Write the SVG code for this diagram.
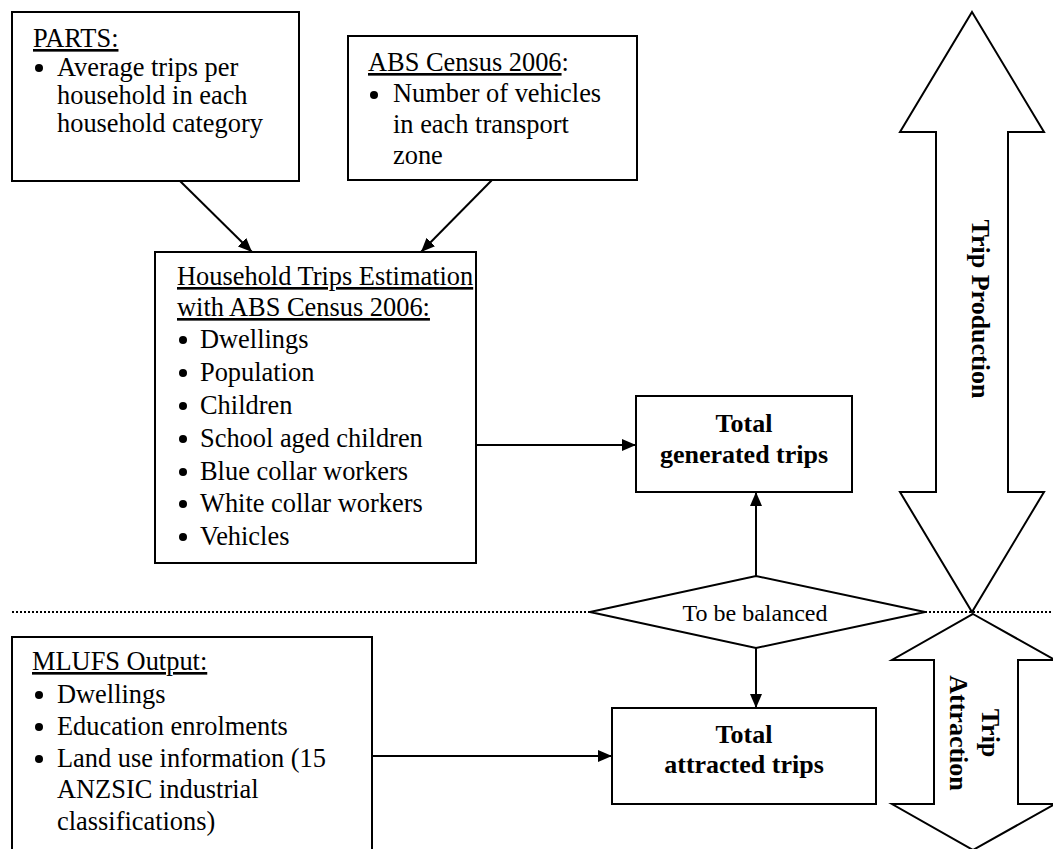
<svg xmlns="http://www.w3.org/2000/svg" width="1053" height="849" viewBox="0 0 1053 849">
<defs>
<style>
.box{fill:#fff;stroke:#000;stroke-width:2}
.t{font-family:"Liberation Serif","Times New Roman",serif;font-size:26.4px;fill:#000}
.b{font-weight:bold;font-size:26px}
.u{text-decoration:underline}
.c{fill:#000}
.ln{stroke:#000;stroke-width:2;fill:none}
.dot{stroke:#000;stroke-width:2;stroke-dasharray:2 2;fill:none}
.big{fill:#fff;stroke:#000;stroke-width:2;stroke-linejoin:miter}
</style>
<marker id="ah" viewBox="0 0 14 12" refX="14" refY="6" markerWidth="14" markerHeight="12" markerUnits="userSpaceOnUse" orient="auto">
<path d="M0,0 L14,6 L0,12 Z" fill="#000"/>
</marker>
</defs>
<rect width="1053" height="849" fill="#fff"/>

<g id="separator">
<line class="dot" x1="12" y1="612" x2="590" y2="612"/>
<line class="dot" x1="925" y1="612" x2="1053" y2="612"/>
</g>

<g id="trip-production">
<polygon class="big" points="972,12 1044,132 1008,132 1008,492 1044,492 972,612 900,492 936,492 936,132 900,132"/>
<text class="t b" transform="translate(972,309) rotate(90)" text-anchor="middle">Trip Production</text>
</g>

<g id="trip-attraction">
<polygon class="big" points="973,614 1055,660 1018,660 1018,804 1055,804 973,850 892,804 934,804 934,660 892,660"/>
<text class="t b" transform="translate(982,733) rotate(90)" text-anchor="middle"><tspan x="0" y="0">Trip</tspan><tspan x="0" y="32">Attraction</tspan></text>
</g>

<g id="parts">
<rect class="box" x="12" y="12" width="287" height="169"/>
<text class="t u" x="33" y="47">PARTS:</text>
<circle class="c" cx="39" cy="68" r="4"/>
<text class="t" x="57" y="76">Average trips per</text>
<text class="t" x="57" y="104">household in each</text>
<text class="t" x="57" y="132">household category</text>
</g>

<g id="abs">
<rect class="box" x="348" y="36" width="289" height="144"/>
<text class="t" x="368" y="71"><tspan class="u">ABS Census 2006</tspan>:</text>
<circle class="c" cx="374" cy="95" r="4"/>
<text class="t" x="393" y="102">Number of vehicles</text>
<text class="t" x="393" y="133">in each transport</text>
<text class="t" x="393" y="164">zone</text>
</g>

<g id="household">
<rect class="box" x="155" y="252" width="321" height="311"/>
<text class="t u" x="177" y="285">Household Trips Estimation</text>
<text class="t u" x="177" y="316">with ABS Census 2006:</text>
<circle class="c" cx="183" cy="340" r="4"/>
<text class="t" x="200" y="348">Dwellings</text>
<circle class="c" cx="183" cy="373" r="4"/>
<text class="t" x="200" y="381">Population</text>
<circle class="c" cx="183" cy="406" r="4"/>
<text class="t" x="200" y="414">Children</text>
<circle class="c" cx="183" cy="439" r="4"/>
<text class="t" x="200" y="447">School aged children</text>
<circle class="c" cx="183" cy="472" r="4"/>
<text class="t" x="200" y="480">Blue collar workers</text>
<circle class="c" cx="183" cy="504" r="4"/>
<text class="t" x="200" y="512">White collar workers</text>
<circle class="c" cx="183" cy="537" r="4"/>
<text class="t" x="200" y="545">Vehicles</text>
</g>

<g id="generated">
<rect class="box" x="636" y="396" width="216" height="96"/>
<text class="t b" x="744" y="432" text-anchor="middle">Total</text>
<text class="t b" x="744" y="463" text-anchor="middle">generated trips</text>
</g>

<g id="balance">
<polygon class="box" points="590,612 756,576 925,612 756,648"/>
<text class="t" x="755" y="621" text-anchor="middle" style="font-size:24px">To be balanced</text>
</g>

<g id="mlufs">
<rect class="box" x="12" y="637" width="360" height="230"/>
<text class="t u" x="32" y="670">MLUFS Output:</text>
<circle class="c" cx="39" cy="695" r="4"/>
<text class="t" x="57" y="703">Dwellings</text>
<circle class="c" cx="39" cy="727" r="4"/>
<text class="t" x="57" y="735">Education enrolments</text>
<circle class="c" cx="39" cy="759" r="4"/>
<text class="t" x="57" y="767">Land use information (15</text>
<text class="t" x="57" y="798">ANZSIC industrial</text>
<text class="t" x="57" y="830">classifications)</text>
</g>

<g id="attracted">
<rect class="box" x="612" y="708" width="264" height="96"/>
<text class="t b" x="744" y="743" text-anchor="middle">Total</text>
<text class="t b" x="744" y="773" text-anchor="middle">attracted trips</text>
</g>

<g id="connectors">
<line class="ln" x1="180" y1="181" x2="252" y2="252" marker-end="url(#ah)"/>
<line class="ln" x1="492" y1="180" x2="421" y2="252" marker-end="url(#ah)"/>
<line class="ln" x1="476" y1="445" x2="636" y2="445" marker-end="url(#ah)"/>
<line class="ln" x1="756" y1="576" x2="756" y2="492" marker-end="url(#ah)"/>
<line class="ln" x1="756" y1="648" x2="756" y2="708" marker-end="url(#ah)"/>
<line class="ln" x1="372" y1="756" x2="612" y2="756" marker-end="url(#ah)"/>
</g>
</svg>
